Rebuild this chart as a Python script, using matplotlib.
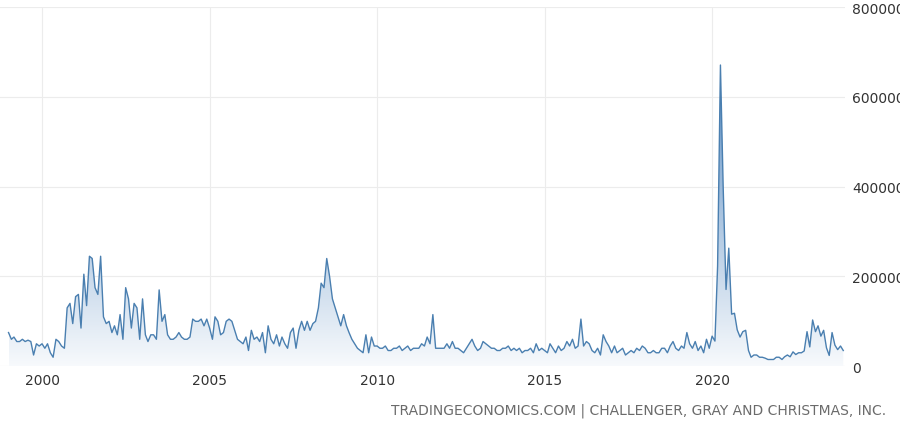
import numpy as np
import pandas as pd
import matplotlib.pyplot as plt
import matplotlib.dates as mdates
from matplotlib.colors import LinearSegmentedColormap
from matplotlib.patches import Polygon

# monthly job cuts, thousands, Jan 1999 - Dec 2023
by_year = {
    1999: [75, 60, 65, 55, 55, 60, 55, 58, 55, 25, 50, 45],
    2000: [50, 40, 50, 30, 20, 60, 55, 45, 40, 130, 140, 95],
    2001: [155, 160, 85, 205, 135, 245, 240, 175, 160, 245, 110, 95],
    2002: [100, 75, 90, 70, 115, 60, 175, 150, 85, 140, 130, 60],
    2003: [150, 70, 55, 70, 70, 60, 170, 100, 115, 70, 60, 60],
    2004: [65, 75, 65, 60, 60, 65, 105, 100, 100, 105, 90, 105],
    2005: [85, 60, 110, 100, 70, 75, 100, 105, 100, 80, 60, 55],
    2006: [50, 65, 35, 80, 60, 65, 55, 75, 30, 90, 60, 50],
    2007: [70, 45, 65, 50, 40, 75, 85, 40, 80, 100, 80, 100],
    2008: [80, 95, 100, 130, 185, 175, 240, 200, 150, 130, 110, 90],
    2009: [115, 90, 75, 60, 50, 40, 35, 30, 70, 30, 65, 45],
    2010: [45, 40, 40, 45, 35, 35, 40, 40, 45, 35, 40, 45],
    2011: [35, 40, 40, 40, 50, 45, 65, 50, 115, 40, 40, 40],
    2012: [40, 50, 40, 55, 40, 40, 35, 30, 40, 50, 60, 45],
    2013: [35, 40, 55, 50, 45, 40, 40, 35, 35, 40, 40, 45],
    2014: [35, 40, 35, 40, 30, 35, 35, 40, 30, 50, 35, 40],
    2015: [35, 30, 50, 40, 30, 45, 35, 40, 55, 45, 60, 40],
    2016: [45, 105, 45, 55, 50, 35, 30, 40, 25, 70, 55, 45],
    2017: [30, 45, 30, 35, 40, 25, 30, 35, 30, 40, 35, 45],
    2018: [40, 30, 30, 35, 30, 30, 40, 40, 30, 45, 55, 40],
    2019: [35, 45, 40, 75, 50, 40, 55, 35, 45, 30, 60, 40],
    2020: [67, 56, 223, 671, 398, 171, 263, 116, 118, 81, 65, 77],
    2021: [80, 35, 20, 25, 25, 20, 20, 18, 15, 15, 15, 20],
    2022: [20, 15, 21, 25, 21, 32, 26, 30, 30, 34, 77, 43],
    2023: [103, 77, 90, 67, 80, 41, 24, 75, 47, 37, 45, 35],
}

values = np.concatenate([by_year[y] for y in sorted(by_year)]) * 1000
dates = pd.date_range('1999-01-01', periods=len(values), freq='MS')

line_color = '#4a7fb0'
fig, ax = plt.subplots(figsize=(9, 4.27), dpi=100)
fig.subplots_adjust(left=0.0, right=0.939, top=0.981, bottom=0.14)

ax.plot(dates, values, color=line_color, lw=1.0, zorder=3)

# gradient fill under the line, darker towards the top
xnum = np.asarray(mdates.date2num(dates))
cmap = LinearSegmentedColormap.from_list('g', ['#ffffff', '#5d8fc4'])
img = ax.imshow(np.linspace(0.05, 1.0, 256).reshape(-1, 1),
                extent=[xnum[0], xnum[-1], 0, values.max()], aspect='auto',
                cmap=cmap, origin='lower', zorder=2, vmin=0, vmax=1)
poly = Polygon(np.column_stack([np.r_[xnum[0], xnum, xnum[-1]],
                                np.r_[0, values, 0]]), closed=True,
               facecolor='none', edgecolor='none')
ax.add_patch(poly)
img.set_clip_path(poly)

ax.set_ylim(0, 800000)
ax.set_xlim(mdates.num2date(mdates.date2num(pd.Timestamp('2000-01-01')) - 1.254 * 365.25),
            mdates.num2date(mdates.date2num(pd.Timestamp('2024-01-01')) - 0.03 * 365.25))
ax.yaxis.tick_right()
ax.set_yticks([0, 200000, 400000, 600000, 800000])
ax.set_yticklabels(['0', '200000', '400000', '600000', '800000'])
years = [2000, 2005, 2010, 2015, 2020]
ax.set_xticks([pd.Timestamp(f'{y}-01-01') for y in years])
ax.set_xticklabels([str(y) for y in years])
ax.tick_params(length=0, labelsize=10, colors='#333333', pad=5)
ax.grid(True, color='#ececec', lw=0.8)
ax.set_axisbelow(True)
for s in ax.spines.values():
    s.set_visible(False)

fig.text(0.985, 0.02, 'TRADINGECONOMICS.COM | CHALLENGER, GRAY AND CHRISTMAS, INC.',
         ha='right', va='bottom', fontsize=10, color='#6b6b6b')

fig.savefig('out.png', dpi=100)
